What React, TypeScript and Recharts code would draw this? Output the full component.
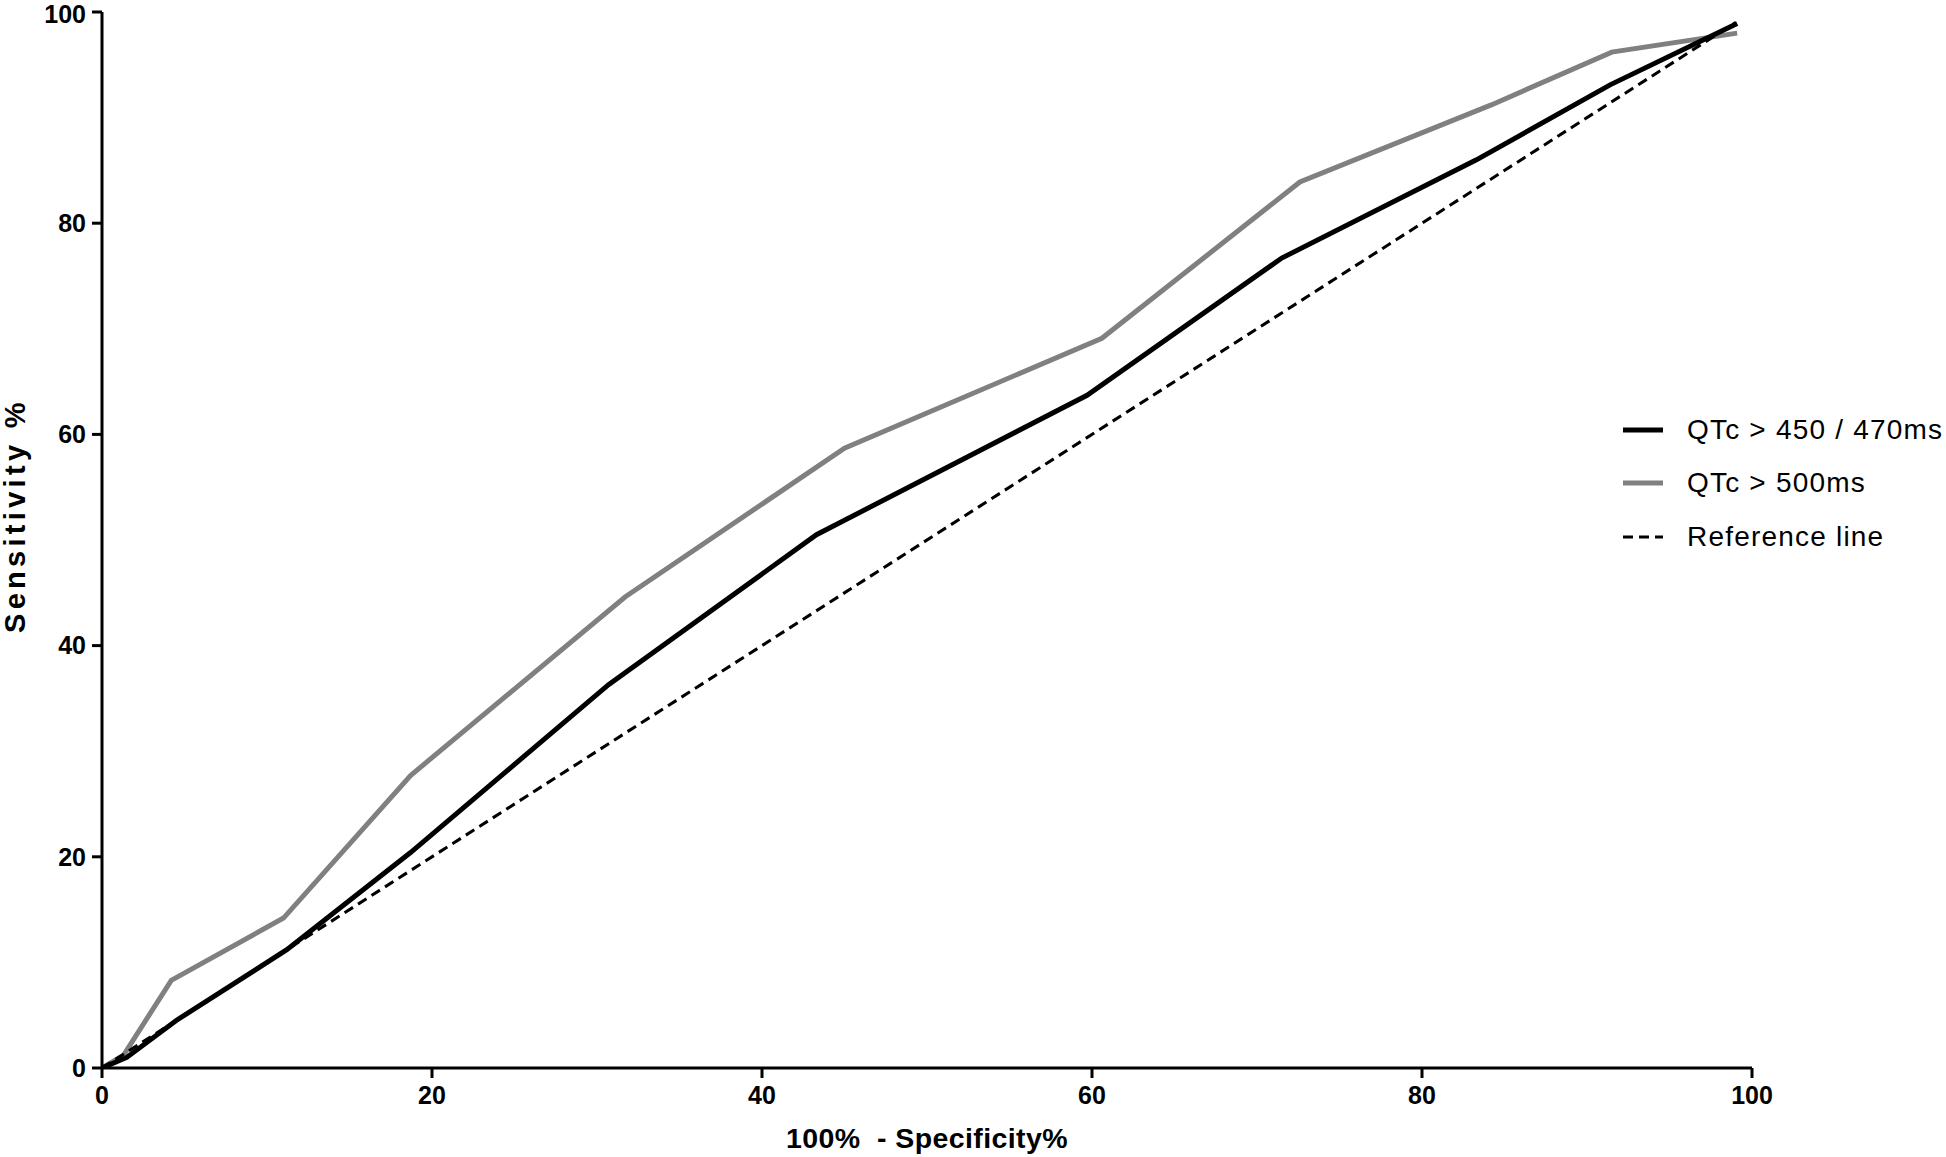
import React from "react";
import { LineChart, Line, XAxis, YAxis } from "recharts";

// ROC curves: 100% - specificity (x) vs sensitivity (y)
const fpr450 = [0, 1.5, 4.5, 11.2, 18.7, 30.7, 43.3, 59.7, 71.5, 83.3, 91.4, 99.1];
const sens450 = [0, 1.0, 4.5, 11.2, 20.4, 36.3, 50.5, 63.7, 76.7, 86.0, 93.1, 98.9];
const fpr500 = [0, 1.3, 4.2, 11.0, 18.7, 31.7, 45.0, 60.6, 72.6, 84.2, 91.5, 99.1];
const sens500 = [0, 1.2, 8.3, 14.2, 27.7, 44.6, 58.7, 69.1, 83.9, 91.2, 96.2, 98.0];
const fprRef = [0, 99];
const sensRef = [0, 99];
const axisTicks = [0, 20, 40, 60, 80, 100];

const toPoints = (xs: number[], ys: number[]) => xs.map((x, i) => ({ x, y: ys[i] }));

const data450 = toPoints(fpr450, sens450);
const data500 = toPoints(fpr500, sens500);
const dataRef = toPoints(fprRef, sensRef);

const legendItems = [
  { label: "QTc > 450 / 470ms", color: "#000", width: 5, dash: undefined },
  { label: "QTc > 500ms", color: "#808080", width: 5, dash: undefined },
  { label: "Reference line", color: "#000", width: 3, dash: "10 6" },
];

const font = "'Liberation Sans', Arial, sans-serif";

function LegendBox() {
  return (
    <div
      style={{
        position: "absolute",
        left: 1623,
        top: 403,
        fontFamily: font,
        fontSize: 28,
        letterSpacing: 1.2,
        color: "#000",
      }}
    >
      {legendItems.map((it) => (
        <div key={it.label} style={{ display: "flex", alignItems: "center", height: 53.5 }}>
          <svg width={40} height={10} style={{ marginRight: 24 }}>
            <line x1={0} y1={5} x2={40} y2={5} stroke={it.color} strokeWidth={it.width} strokeDasharray={it.dash} />
          </svg>
          <span style={{ whiteSpace: "pre" }}>{it.label}</span>
        </div>
      ))}
    </div>
  );
}

export default function App() {
  return (
    <div style={{ position: "absolute", left: 0, top: 0, width: 1946, height: 1157, background: "#fff" }}>
      <LineChart width={1946} height={1157} margin={{ top: 12, right: 194, bottom: 0, left: 0 }}>
        <XAxis
          type="number"
          dataKey="x"
          domain={[0, 100]}
          ticks={axisTicks}
          tickSize={10}
          axisLine={{ stroke: "#000", strokeWidth: 3 }}
          tickLine={{ stroke: "#000", strokeWidth: 3 }}
          tick={{ fill: "#000", fontSize: 25, fontWeight: "bold", fontFamily: font }}
          tickMargin={8}
          height={89}
          allowDataOverflow
          label={(props: any) => {
            const vb = props.viewBox;
            return (
              <text
                x={vb.x + vb.width / 2}
                y={1148}
                textAnchor="middle"
                fontFamily={font}
                fontWeight="bold"
                fontSize={28.5}
                letterSpacing={0.4}
                fill="#000"
                style={{ whiteSpace: "pre" }}
              >
                100%  - Specificity%
              </text>
            );
          }}
        />
        <YAxis
          type="number"
          dataKey="y"
          domain={[0, 100]}
          ticks={axisTicks}
          tickSize={10}
          width={102}
          axisLine={{ stroke: "#000", strokeWidth: 3 }}
          tickLine={{ stroke: "#000", strokeWidth: 3 }}
          tick={{ fill: "#000", fontSize: 25, fontWeight: "bold", fontFamily: font }}
          tickMargin={6}
          allowDataOverflow
          label={() => (
            <text
              x={25}
              y={633}
              transform="rotate(-90, 25, 633)"
              textAnchor="start"
              fontFamily={font}
              fontWeight="bold"
              fontSize={29}
              letterSpacing={4.3}
              fill="#000"
            >
              Sensitivity %
            </text>
          )}
        />
        <Line
          data={data500}
          dataKey="y"
          name="QTc > 500ms"
          stroke="#808080"
          strokeWidth={5}
          dot={false}
          type="linear"
          isAnimationActive={false}
        />
        <Line
          data={dataRef}
          dataKey="y"
          name="Reference line"
          stroke="#000"
          strokeWidth={3}
          strokeDasharray="10 6"
          dot={false}
          type="linear"
          isAnimationActive={false}
        />
        <Line
          data={data450}
          dataKey="y"
          name="QTc > 450 / 470ms"
          stroke="#000"
          strokeWidth={5}
          dot={false}
          type="linear"
          isAnimationActive={false}
        />
      </LineChart>
      <LegendBox />
    </div>
  );
}
